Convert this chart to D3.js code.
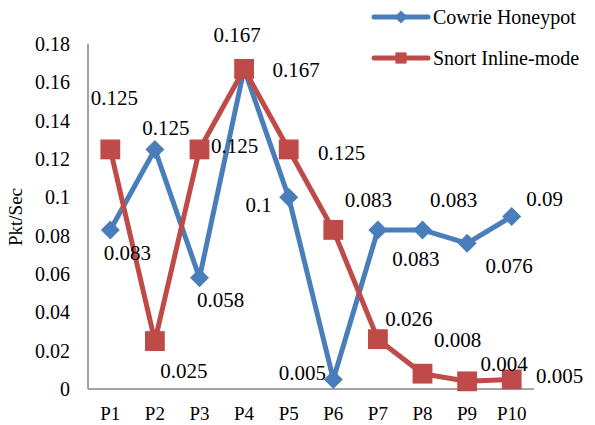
<!DOCTYPE html>
<html>
<head>
<meta charset="utf-8">
<script src="https://cdn.jsdelivr.net/npm/d3@7"></script>
<style>
  body { margin: 0; background: #fff; }
  svg text { font-family: "Liberation Serif", "Times New Roman", serif; fill: #000; }
</style>
</head>
<body>
<div id="chart"></div>
<script>
"use strict";

const categories = ["P1", "P2", "P3", "P4", "P5", "P6", "P7", "P8", "P9", "P10"];
const cowrie = [0.083, 0.125, 0.058, 0.167, 0.1, 0.005, 0.083, 0.083, 0.076, 0.09];
const snort = [0.125, 0.025, 0.125, 0.167, 0.125, 0.083, 0.026, 0.008, 0.004, 0.005];
const yTicks = [0, 0.02, 0.04, 0.06, 0.08, 0.1, 0.12, 0.14, 0.16, 0.18];

// label offsets (dx, dy) from each point, as placed in the original
const cowrieOff = [[17, 23], [11, -22], [21, 22], [52, 1], [-30, 7], [-31, -7], [38, 29], [31, -30], [42, 22], [33, -18]];
const snortOff = [[4, -52], [29, 30], [35, -4], [-7, -34], [53, 3], [35, -30], [31, -21], [35, -34], [37, -18], [48, -4]];

const width = 595, height = 425;
const margin = { top: 44, right: 61, bottom: 36, left: 88 };

const svg = d3.select("#chart")
    .append("svg")
    .attr("width", width)
    .attr("height", height)
    .attr("font-family", "Liberation Serif, serif");

const x = d3.scaleBand()
    .domain(categories)
    .range([margin.left, width - margin.right]);

const y = d3.scaleLinear()
    .domain([0, 0.18])
    .range([height - margin.bottom, margin.top]);

const cx = d => x(d) + x.bandwidth() / 2;

// axes
svg.append("line")
    .attr("x1", margin.left).attr("x2", margin.left)
    .attr("y1", y(0.18)).attr("y2", y(0))
    .attr("stroke", "#868686").attr("stroke-width", 1.5);
svg.append("line")
    .attr("x1", margin.left).attr("x2", width - margin.right)
    .attr("y1", y(0)).attr("y2", y(0))
    .attr("stroke", "#868686").attr("stroke-width", 1.5);

svg.append("g")
    .selectAll("text")
    .data(yTicks)
    .enter()
    .append("text")
    .attr("x", 70)
    .attr("y", d => y(d))
    .attr("dy", "0.35em")
    .attr("text-anchor", "end")
    .style("font-size", "20px")
    .text(d => d);

svg.append("g")
    .selectAll("text")
    .data(categories)
    .enter()
    .append("text")
    .attr("x", cx)
    .attr("y", 413)
    .attr("dy", "0.35em")
    .attr("text-anchor", "middle")
    .style("font-size", "19px")
    .text(d => d);

svg.append("text")
    .attr("transform", "translate(22," + 217 + ") rotate(-90)")
    .attr("text-anchor", "middle")
    .style("font-size", "19px")
    .text("Pkt/Sec");

const line = d3.line()
    .x((d, i) => cx(categories[i]))
    .y(d => y(d));

function drawSeries(values, color, shape) {
    svg.append("path")
        .datum(values)
        .attr("d", line)
        .attr("fill", "none")
        .attr("stroke", color)
        .attr("stroke-width", 5)
        .attr("stroke-linejoin", "round");

    svg.append("g")
        .selectAll("path")
        .data(values)
        .enter()
        .append("path")
        .attr("transform", (d, i) => "translate(" + cx(categories[i]) + "," + y(d) + ")")
        .attr("d", d3.symbol().type(shape === "diamond" ? d3.symbolDiamond2 : d3.symbolSquare2)
            .size(shape === "diamond" ? 230 : 500))
        .attr("fill", color)
        .attr("stroke", "none");
}

function drawLabels(values, offsets) {
    svg.append("g")
        .selectAll("text")
        .data(values)
        .enter()
        .append("text")
        .attr("x", (d, i) => cx(categories[i]) + offsets[i][0])
        .attr("y", (d, i) => y(d) + offsets[i][1])
        .attr("dy", "0.35em")
        .attr("text-anchor", "middle")
        .style("font-size", "21px")
        .text(d => d);
}

const blue = "#4a7ebb", red = "#be4b48";
drawSeries(cowrie, blue, "diamond");
drawSeries(snort, red, "square");
drawLabels(cowrie, cowrieOff);
drawLabels(snort, snortOff);

// legend
const legend = svg.append("g");
const legendItems = [
    { name: "Cowrie Honeypot", color: blue, shape: "diamond", y: 17 },
    { name: "Snort Inline-mode", color: red, shape: "square", y: 58 }
];
legendItems.forEach(function (it) {
    legend.append("line")
        .attr("x1", 374).attr("x2", 428)
        .attr("y1", it.y).attr("y2", it.y)
        .attr("stroke", it.color).attr("stroke-width", 5)
        .attr("stroke-linecap", "round");
    legend.append("path")
        .attr("transform", "translate(401," + it.y + ")")
        .attr("d", d3.symbol().type(it.shape === "diamond" ? d3.symbolDiamond2 : d3.symbolSquare2)
            .size(it.shape === "diamond" ? 110 : 160))
        .attr("fill", it.color);
    legend.append("text")
        .attr("x", 433)
        .attr("y", it.y)
        .attr("dy", "0.35em")
        .style("font-size", "20px")
        .text(it.name);
});
</script>
</body>
</html>
